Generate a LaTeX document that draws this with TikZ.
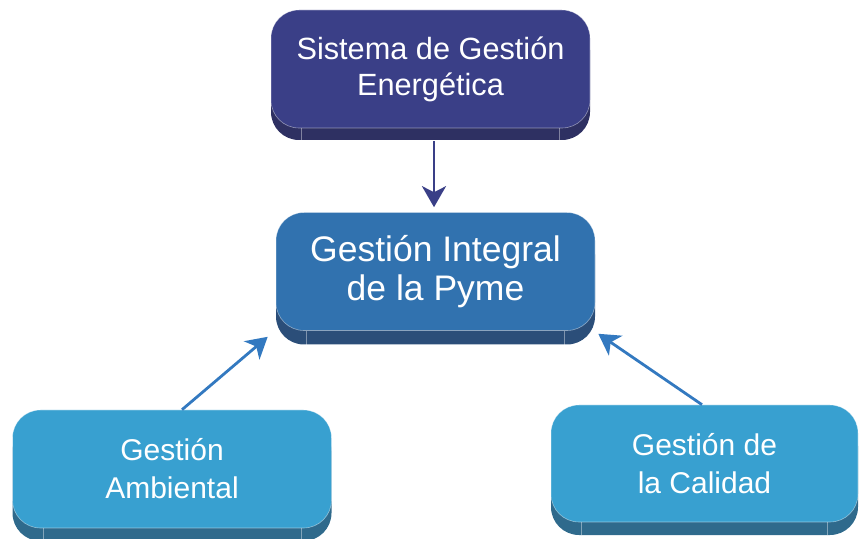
\documentclass[tikz,border=0pt]{standalone}
\usepackage{fontspec}
\setmainfont{Liberation Sans}
\usetikzlibrary{arrows.meta,shadows}

\definecolor{sgeazul}{HTML}{3A3F87}
\definecolor{sgefondo}{HTML}{2E3062}
\definecolor{gipazul}{HTML}{3172AF}
\definecolor{gipfondo}{HTML}{2B4E79}
\definecolor{areaazul}{HTML}{38A0D0}
\definecolor{areafondo}{HTML}{2F6A8C}
\definecolor{flechaclara}{HTML}{3379C0}

\tikzset{
    bloque/.style={rectangle, rounded corners=28pt, minimum width=319pt,
        minimum height=118pt, inner sep=0pt, align=center, text=white,
        draw=white, draw opacity=0.45, line width=0.6pt},
    sgebox/.style={bloque, fill=sgeazul,
        general shadow={shadow yshift=-12pt, fill=sgefondo},
        font=\fontsize{30.7}{36}\selectfont},
    gipbox/.style={bloque, fill=gipazul,
        general shadow={shadow yshift=-14pt, fill=gipfondo},
        font=\fontsize{35.5}{39}\selectfont},
    areabox/.style={bloque, fill=areaazul,
        general shadow={shadow yshift=-13pt, fill=areafondo},
        font=\fontsize{30}{38}\selectfont},
    flecha/.style={line width=2.8pt,
        -{Stealth[length=21pt,width=24pt,inset=6pt]}}
}

\begin{document}
\begin{tikzpicture}[x=1pt,y=1pt]
    \useasboundingbox (0,0) rectangle (859,538);

    \node[sgebox] (sge) at (430.5,469) {Sistema de Gesti\'on\\Energ\'etica};
    \node[gipbox] (gip) at (435.5,266.5) {Gesti\'on Integral\\de la Pyme};
    \node[areabox] (amb) at (172,69) {Gesti\'on\\Ambiental};
    \node[areabox, minimum width=307pt, minimum height=117pt] (cal) at (704.5,74.5)
        {Gesti\'on de\\la Calidad};

    \foreach \n/\d in {sge/12,gip/14,amb/13,cal/13} {
        \draw[white, opacity=0.4, line width=0.6pt]
            ([xshift=31pt]\n.south west) -- ++(0,-\d);
        \draw[white, opacity=0.4, line width=0.6pt]
            ([xshift=-31pt]\n.south east) -- ++(0,-\d);
    }

    \draw[flecha, draw=sgeazul] ([xshift=3.5pt,yshift=-13pt]sge.south)
        -- ([xshift=-1.5pt,yshift=5pt]gip.north);
    \draw[flecha, draw=flechaclara] ([xshift=10pt]amb.north)
        -- ([xshift=-8pt,yshift=-6pt]gip.south west);
    \draw[flecha, draw=flechaclara] ([xshift=-2.5pt]cal.north)
        -- ([xshift=3pt,yshift=-3pt]gip.south east);
\end{tikzpicture}
\end{document}
